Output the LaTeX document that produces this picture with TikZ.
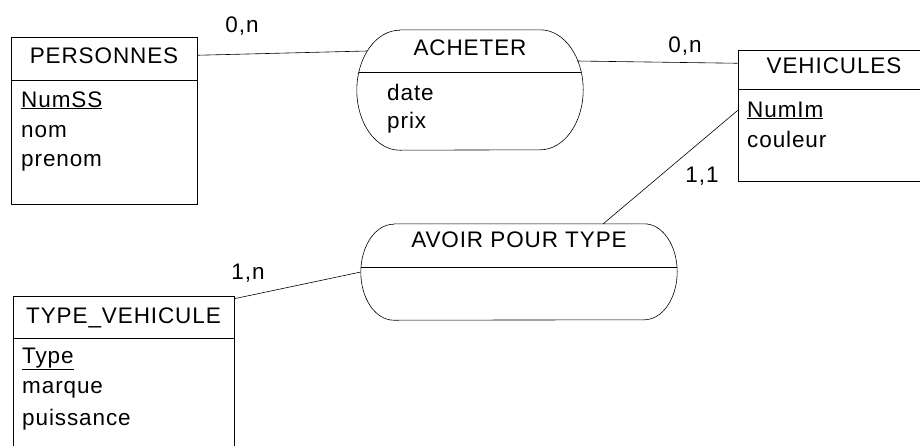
\documentclass[tikz,border=0pt]{standalone}
\usepackage{fontspec}
\setmainfont{Liberation Sans}[LetterSpace=4]
\usetikzlibrary{positioning, calc}

\begin{document}
\begin{tikzpicture}[
    x=1pt, y=-1pt,
    every node/.style={font=\fontsize{22.5}{27}\selectfont, inner sep=0pt},
    entity/.style={rectangle, draw, line width=0.6pt},
    relation/.style={rectangle, draw=none},
    title/.style={anchor=base},
    attr/.style={anchor=base west},
    card/.style={anchor=base},
    link/.style={line width=0.6pt}
  ]
  \useasboundingbox (0,0) rectangle (920,445);
  \clip (0,0) rectangle (920,445);

  % entities
  \node[entity, minimum width=186pt, minimum height=167pt] (pers) at (104,120.5) {};
  \node[title] (persT) at (104,63) {PERSONNES};
  \node[attr] (persA1) at (21,107) {\underline{NumSS}};
  \node[attr] (persA2) at (21,137) {nom};
  \node[attr] (persA3) at (21,166) {prenom};

  \node[entity, minimum width=192pt, minimum height=131pt] (veh) at (834,115.5) {};
  \node[title] (vehT) at (834,73) {VEHICULES};
  \node[attr] (vehA1) at (747,117) {\underline{NumIm}};
  \node[attr] (vehA2) at (747,147) {couleur};

  \node[entity, minimum width=221pt, minimum height=184pt] (tv) at (123.5,388) {};
  \node[title] (tvT) at (123.5,323) {TYPE\_VEHICULE};
  \node[attr] (tvA1) at (22,363) {\underline{Type}};
  \node[attr] (tvA2) at (22,393) {marque};
  \node[attr] (tvA3) at (22,425) {puissance};

  \foreach \ent/\hy in {pers/80, veh/89, tv/338}
    \draw[link] (\ent.west |- 0,\hy) -- (\ent.east |- 0,\hy);

  % relations
  \node[relation, minimum width=226pt, minimum height=120pt] (ach) at (470,90) {};
  \node[title] (achT) at (470,55) {ACHETER};
  \node[attr] (achA1) at (387,100) {date};
  \node[attr] (achA2) at (387,128) {prix};

  \node[relation, minimum width=316pt, minimum height=96pt] (avo) at (519,272) {};
  \node[title] (avoT) at (519,247) {AVOIR POUR TYPE};

  \foreach \rel/\rx/\ry/\sy/\gap in {ach/43/60/72/2, avo/33/48/267/0} {
    \draw[link] ([xshift=\rx pt]\rel.north west) -- ([xshift=-\rx pt]\rel.north east)
      arc[start angle=90, end angle=-90, x radius=\rx pt, y radius=\ry pt]
      -- ([xshift=\rx pt]\rel.south west)
      arc[start angle=270, end angle=90, x radius=\rx pt, y radius=\ry pt] -- cycle;
    \draw[link] ($(\rel.west |- 0,\sy)+(\gap,0)$) -- ($(\rel.east |- 0,\sy)-(\gap,0)$);
  }

  % links
  \coordinate (achL) at (367,51);
  \coordinate (achR) at (577,61);
  \coordinate (avoN) at (603,224);

  \draw[link] (pers.east |- persT) -- (achL);
  \draw[link] (achR) -- ([yshift=2pt]veh.west |- vehT);
  \draw[link] (veh.west |- vehA1) -- (avoN);
  \draw[link] ([yshift=-3pt]tv.north east) -- (avo.west);

  \node[card] (c1) at (242,32) {0,n};
  \node[card] (c2) at (685,52) {0,n};
  \node[card] (c3) at (702,182) {1,1};
  \node[card] (c4) at (248,279) {1,n};
\end{tikzpicture}
\end{document}
